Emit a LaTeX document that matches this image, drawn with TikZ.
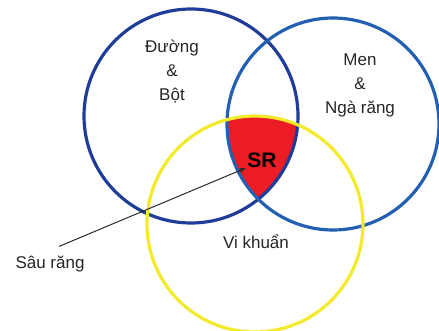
\documentclass[tikz,border=0pt]{standalone}
\usepackage{fontspec}
\setmainfont{Liberation Sans}
\usetikzlibrary{arrows.meta}
\definecolor{SugarBlue}{HTML}{1F3D98}
\definecolor{EnamelBlue}{HTML}{2460B2}
\definecolor{GermYellow}{HTML}{F4EA2C}
\definecolor{CariesRed}{HTML}{EC1C24}
\definecolor{ArrowGray}{HTML}{2B2B2B}

\begin{document}
\begin{tikzpicture}[x=1pt,y=1pt,
    ring/.style={line width=3.2pt},
    lbl/.style={font=\fontsize{17}{24}\selectfont, align=center, text=black!85}]
        \useasboundingbox (0,0) rectangle (439,-331);
        \coordinate (cSugar) at (191,-116);
        \coordinate (cEnamel) at (333,-124);
        \coordinate (cGerm) at (255,-224);
        % red overlap of all three
        \begin{scope}
          \clip (cSugar) circle (107pt);
          \clip (cEnamel) circle (106pt);
          \fill[CariesRed] (cGerm) circle (108pt);
        \end{scope}
        \draw[ring, SugarBlue] (cSugar) circle (107pt);
        \draw[ring, EnamelBlue] (cEnamel) circle (106pt);
        \draw[ring, GermYellow] (cGerm) circle (108pt);
        \node[lbl] (sugar) at (172,-72) {Đường\\\&\\Bột};
        \node[lbl] (enamel) at (360,-85) {Men\\\&\\Ngà răng};
        \node[lbl] (germ) at (256,-242) {Vi khuẩn};
        \node[font=\fontsize{21}{24}\selectfont\bfseries] (sr) at (262,-160) {SR};
        \node[lbl] (caries) at (50,-264) {Sâu răng};
        \draw[ArrowGray, line width=1pt, -{Stealth[length=7pt,width=5pt]}]
          ([xshift=9pt,yshift=6pt]caries.north) -- ([xshift=2pt,yshift=3pt]sr.south west);
      \end{tikzpicture}
\end{document}
